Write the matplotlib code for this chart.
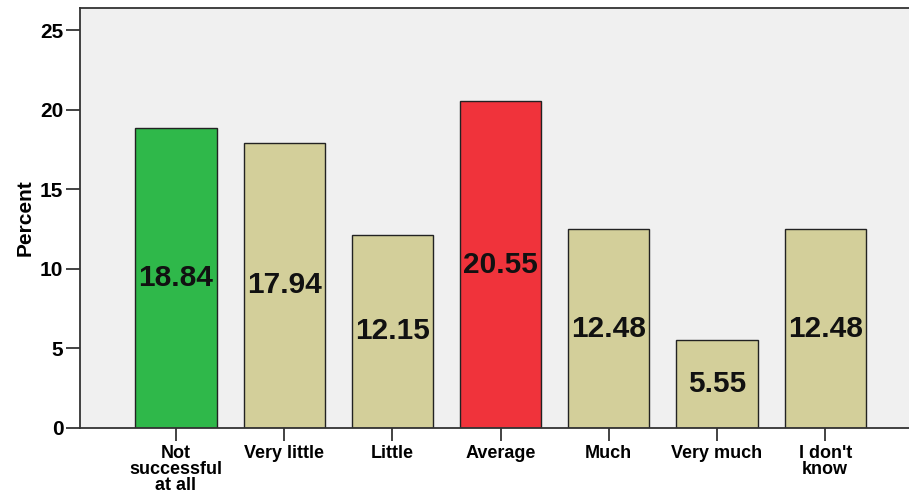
import matplotlib
matplotlib.use('Agg')
import matplotlib.pyplot as plt

categories = ['Not\nsuccessful\nat all', 'Very little', 'Little', 'Average',
              'Much', 'Very much', "I don't\nknow"]
percents = [18.84, 17.94, 12.15, 20.55, 12.48, 5.55, 12.48]
bar_colors = ['#2fb84a', '#d3cf9a', '#d3cf9a', '#f0333b',
              '#d3cf9a', '#d3cf9a', '#d3cf9a']
y_ticks = [0, 5, 10, 15, 20, 25]

plt.rcParams['font.family'] = ['Liberation Sans', 'DejaVu Sans']
plt.rcParams['font.weight'] = 'bold'

fig = plt.figure(figsize=(9.09, 4.98), dpi=100)
ax = fig.add_axes([0.088, 0.1406, 0.912, 0.8434])
ax.set_facecolor('#f0f0f0')

x = list(range(len(categories)))
bars = ax.bar(x, percents, width=0.75, color=bar_colors,
              edgecolor='#222222', linewidth=1.0, zorder=2)

# value labels in the middle of each bar
for bar, val in zip(bars, percents):
    ax.text(bar.get_x() + bar.get_width() / 2, val / 2, f'{val:.2f}',
            ha='center', va='center', fontsize=21.5, fontweight='bold',
            color='#111111', zorder=3)

ax.set_xlim(-0.887, 6.775)
ax.set_ylim(0, 26.4)
ax.set_yticks(y_ticks)
ax.set_yticklabels([str(t) for t in y_ticks], fontsize=15, fontweight='bold')
ax.set_xticks(x)
ax.set_xticklabels(categories, fontsize=13, fontweight='bold',
                   linespacing=0.92)
ax.set_ylabel('Percent', fontsize=15, fontweight='bold', labelpad=4)

ax.tick_params(axis='y', length=10, width=1.2, color='#222222', pad=2)
ax.tick_params(axis='x', length=9, width=1.2, color='#222222', pad=3)

for side in ['left', 'bottom', 'top']:
    ax.spines[side].set_color('#333333')
    ax.spines[side].set_linewidth(1.3)
ax.spines['right'].set_visible(False)

plt.savefig('out.png', dpi=100)
plt.close()
